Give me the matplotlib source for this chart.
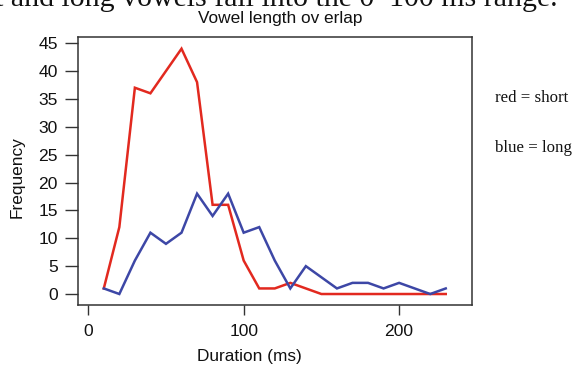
import matplotlib
matplotlib.use("Agg")
import matplotlib.pyplot as plt

# Histogram counts per 10 ms duration bin
durations = [10, 20, 30, 40, 50, 60, 70, 80, 90, 100, 110, 120,
             130, 140, 150, 160, 170, 180, 190, 200, 210, 220, 230]
short_counts = [1, 12, 37, 36, 40, 44, 38, 16, 16, 6, 1, 1,
                2, 1, 0, 0, 0, 0, 0, 0, 0, 0, 0]
long_counts = [1, 0, 6, 11, 9, 11, 18, 14, 18, 11, 12, 6,
               1, 5, 3, 1, 2, 2, 1, 2, 1, 0, 1]
x_ticks = [0, 100, 200]
y_ticks = [0, 5, 10, 15, 20, 25, 30, 35, 40, 45]

W, H = 576, 365
fig = plt.figure(figsize=(W / 100, H / 100), dpi=100)

sans = ["Liberation Sans", "DejaVu Sans"]
serif = ["Liberation Serif", "DejaVu Serif"]

left, right, top, bottom = 78.3, 471.7, 37, 305
ax = fig.add_axes([left / W, 1 - bottom / H, (right - left) / W, (bottom - top) / H])

red = "#e2291f"
blue = "#3d47a6"
ax.plot(durations, short_counts, color=red, lw=1.8, solid_joinstyle="miter")
ax.plot(durations, long_counts, color=blue, lw=1.8, solid_joinstyle="miter")

ax.set_xlim(-6.4, 246.7)
ax.set_ylim(-1.97, 46.1)
ax.set_xticks(x_ticks)
ax.set_yticks(y_ticks)

frame = "#333333"
for s in ax.spines.values():
    s.set_color(frame)
    s.set_linewidth(1.1)
ax.tick_params(axis="y", direction="out", length=9.3, width=1.0, color=frame,
               pad=5.5, labelsize=12.6, labelcolor="#111111")
ax.tick_params(axis="x", direction="out", length=7.2, width=1.0, color=frame,
               pad=6.5, labelsize=12.6, labelcolor="#111111")
for lab in ax.get_xticklabels() + ax.get_yticklabels():
    lab.set_family(sans)

fig.text(280.7 / W, 1 - 18 / H, "Vowel length ov erlap", ha="center", va="center",
         fontsize=12.4, family=sans, color="#111111")
fig.text(249 / W, 1 - 357 / H, "Duration (ms)", ha="center", va="center",
         fontsize=12.4, family=sans, color="#111111")
fig.text(17 / W, 1 - 177 / H, "Frequency", ha="center", va="center", rotation=90,
         fontsize=12.4, family=sans, color="#111111")

fig.text(495 / W, 1 - 98 / H, "red = short", ha="left", va="center",
         fontsize=12.2, family=serif, color="#111111")
fig.text(495 / W, 1 - 148 / H, "blue = long", ha="left", va="center",
         fontsize=12.2, family=serif, color="#111111")

fig.text(558 / W, 1 - 6 / H, "t and long vowels fall into the 0\u2013100 ms range.",
         ha="right", va="baseline", fontsize=21.5, family=serif, color="#111111")

fig.savefig("out.png", dpi=100)
